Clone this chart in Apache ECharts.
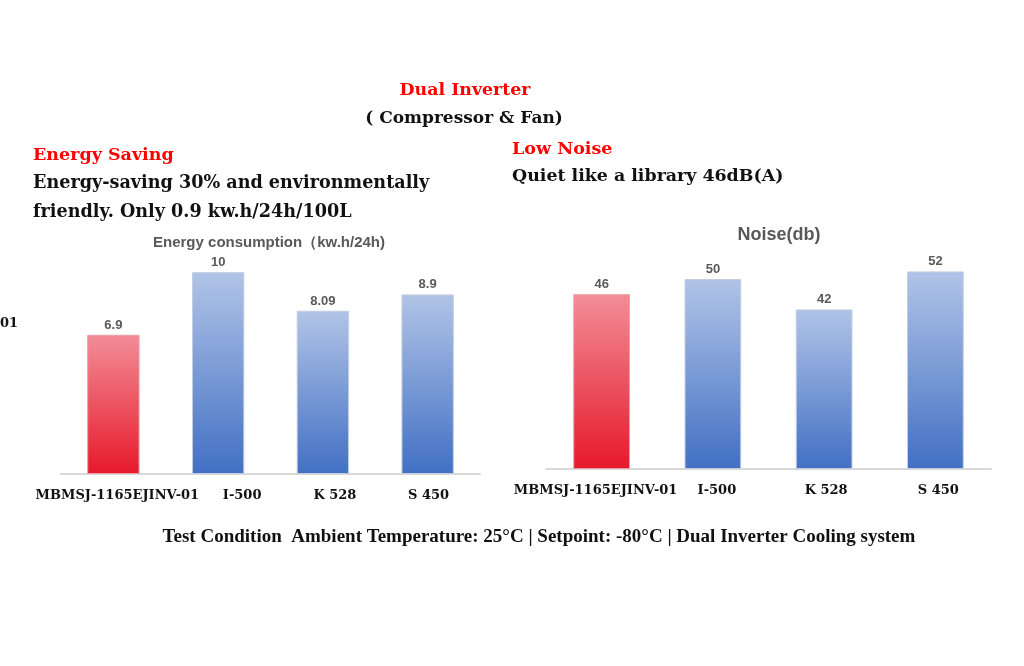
<!DOCTYPE html>
<html>
<head>
<meta charset="utf-8">
<script src="https://cdn.jsdelivr.net/npm/echarts@6/dist/echarts.min.js"></script>
<style>html,body{margin:0;padding:0;background:#fff}#c{width:1024px;height:666px}</style>
</head>
<body>
<div id="c"></div>
<script>
const categories = ['MBMSJ-1165EJINV-01', 'I-500', 'K 528', 'S 450'];
const energyValues = [6.9, 10, 8.09, 8.9];
const noiseValues = [46, 50, 42, 52];
const highlightIndex = 0;

const serif = '"DejaVu Serif", "Liberation Serif", serif';
const serif2 = '"Liberation Serif", serif';
const sans = '"Liberation Sans", Arial, sans-serif';

function grad(top, bottom) {
  return new echarts.graphic.LinearGradient(0, 0, 0, 1, [
    { offset: 0, color: top }, { offset: 1, color: bottom }
  ]);
}
function barData(values) {
  return values.map((v, i) => ({
    value: v,
    itemStyle: {
      color: i === highlightIndex ? grad('#F28D97', '#E6192B') : grad('#B1C4E7', '#4270C4'),
      borderColor: i === highlightIndex ? '#e9a0a8' : '#c3cde0',
      borderWidth: 1
    }
  }));
}
function catData(offsets) {
  return categories.map((c, i) => ({
    value: c,
    textStyle: { padding: [0, 0, 0, offsets[i] * 2] }
  }));
}
const axisLabelStyle = {
  interval: 0, margin: 15, color: '#111', fontFamily: serif, fontWeight: 'bold', fontSize: 13
};
const valLabel = {
  show: true, position: 'top', distance: 3, color: '#595959',
  fontFamily: sans, fontSize: 13, fontWeight: 'bold'
};
function t(text, left, top, color, size, extra) {
  return Object.assign({ text, left, top, padding: 0,
    textStyle: { color, fontFamily: serif, fontWeight: 'bold', fontSize: size } }, extra || {});
}

const chart = echarts.init(document.getElementById('c'));
chart.setOption({
  animation: false,
  backgroundColor: '#fff',
  title: [
    t('Dual Inverter', 465, 82, '#ff0000', 17.4, { textAlign: 'center' }),
    t('( Compressor & Fan)', 464, 110, '#111', 17, { textAlign: 'center' }),
    t('Energy Saving', 33, 146, '#ff0000', 17.5),
    t('Energy-saving 30% and environmentally', 33, 174, '#111', 17.6),
    t('friendly. Only 0.9 kw.h/24h/100L', 33, 203, '#111', 17.6),
    t('Low Noise', 512, 140, '#ff0000', 17.5),
    t('Quiet like a library 46dB(A)', 512, 168, '#111', 17.4),
    { text: 'Energy consumption（kw.h/24h)', left: 269, top: 235, padding: 0, textAlign: 'center',
      textStyle: { color: '#595959', fontFamily: sans, fontWeight: 'bold', fontSize: 15 } },
    { text: 'Noise(db)', left: 779, top: 226, padding: 0, textAlign: 'center',
      textStyle: { color: '#595959', fontFamily: sans, fontWeight: 'bold', fontSize: 18 } },
    t('01', 0, 317, '#111', 13),
    { text: 'Test Condition  Ambient Temperature: 25°C | Setpoint: -80°C | Dual Inverter Cooling system',
      left: 539, top: 528, padding: 0, textAlign: 'center',
      textStyle: { color: '#111', fontFamily: serif2, fontWeight: 'bold', fontSize: 19 } }
  ],
  grid: [
    { left: 61, width: 419, top: 252, bottom: 192 },
    { left: 546, width: 445, top: 260, bottom: 197 }
  ],
  xAxis: [
    { type: 'category', gridIndex: 0, data: catData([4, 24, 12, 1]),
      axisLine: { lineStyle: { color: '#d9d9d9', width: 2 } }, axisTick: { show: false },
      axisLabel: axisLabelStyle },
    { type: 'category', gridIndex: 1, data: catData([-6, 4, 2, 3]),
      axisLine: { lineStyle: { color: '#d9d9d9', width: 2 } }, axisTick: { show: false },
      axisLabel: axisLabelStyle }
  ],
  yAxis: [
    { type: 'value', gridIndex: 0, min: 0, max: 11, show: false },
    { type: 'value', gridIndex: 1, min: 0, max: 55, show: false }
  ],
  series: [
    { type: 'bar', xAxisIndex: 0, yAxisIndex: 0, barWidth: '50%', data: barData(energyValues), label: valLabel },
    { type: 'bar', xAxisIndex: 1, yAxisIndex: 1, barWidth: '51%', data: barData(noiseValues), label: valLabel }
  ]
});
</script>
</body>
</html>
